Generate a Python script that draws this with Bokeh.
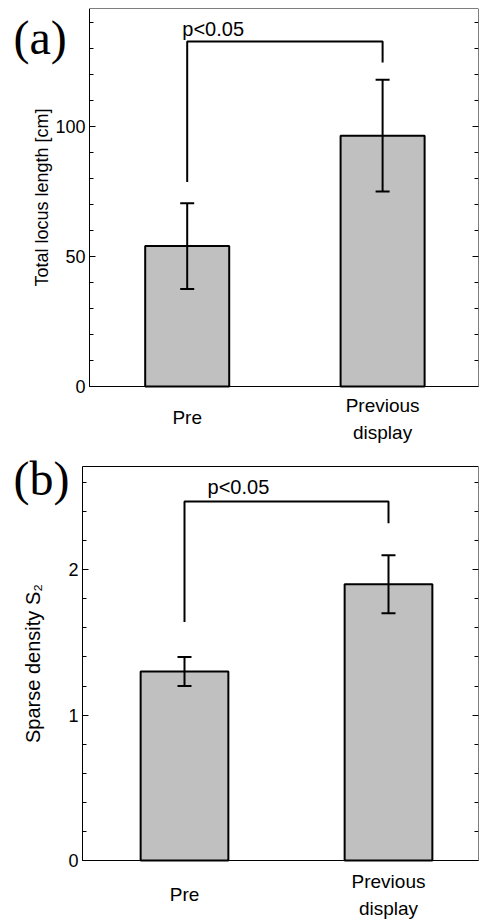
from bokeh.plotting import figure
from bokeh.layouts import column
from bokeh.models import (ColumnDataSource, Whisker, TeeHead, LinearAxis,
                          SingleIntervalTicker, FixedTicker, Range1d)
from bokeh.embed import file_html
from bokeh.resources import INLINE
from bokeh.core.properties import value

# ---- data ----
categories = ["Pre", "Previous\ndisplay"]
positions = [1, 2]

a_means = [54.0, 96.5]
a_errs = [16.5, 21.5]
a_bracket = [78.7, 132.7, 124.6]   # left start, top, right end

b_means = [1.30, 1.90]
b_errs = [0.10, 0.20]
b_bracket = [1.64, 2.47, 2.32]

SANS = "Liberation Sans"
SERIF = "Liberation Serif"


def build(means, errs, bracket, ylabel, ylabel_size, y_top, y_extra, interval,
          axis_px, px_per_unit, height, b_top, b_bottom_px, label_standoff,
          std_prev, std_pre, ptxt_xy, tag, tag_xy):
    width = 480
    frame_w = width - 2
    axis_x = 0.5                                   # data x of the y axis
    x_start = axis_x - axis_px / px_per_unit
    x_end = x_start + frame_w / px_per_unit
    y_start = -b_bottom_px * (y_top + y_extra) / (height - b_top - b_bottom_px)

    p = figure(width=width, height=height, output_backend="svg", toolbar_location=None,
               x_range=Range1d(x_start, x_end), y_range=Range1d(y_start, y_top + y_extra),
               x_axis_location=None, y_axis_location=None,
               min_border_left=0, min_border_right=2, min_border_top=b_top,
               min_border_bottom=0)
    p.grid.visible = False
    p.outline_line_color = None
    p.background_fill_color = "white"
    p.border_fill_color = "white"

    src = ColumnDataSource(dict(
        x=positions, top=means,
        upper=[m + e for m, e in zip(means, errs)],
        lower=[m - e for m, e in zip(means, errs)],
    ))
    p.vbar(x="x", top="top", bottom=0, width=0.43, source=src, fill_color="#c0c0c0",
           line_color="black", line_width=2)
    w = Whisker(base="x", upper="upper", lower="lower", source=src, level="overlay",
                line_width=2, line_color="black",
                upper_head=TeeHead(size=14, line_width=2, line_color="black"),
                lower_head=TeeHead(size=14, line_width=2, line_color="black"))
    p.add_layout(w)

    # significance bracket
    p.line(x=[positions[0], positions[0], positions[1], positions[1]],
           y=[bracket[0], bracket[1], bracket[1], bracket[2]],
           line_color="black", line_width=2)
    p.text(x=[ptxt_xy[0]], y=[ptxt_xy[1]], text=["p<0.05"], text_font=value(SANS),
           text_font_size="20px", text_baseline="alphabetic", text_align="left",
           text_color="black")

    # panel tag
    p.text(x=[x_start + tag_xy[0] / px_per_unit], y=[tag_xy[1]], text=[tag],
           text_font=value(SERIF), text_font_size="48px", text_baseline="alphabetic",
           text_align="left", text_color="black")

    # left y axis, drawn at a fixed data location
    yax = LinearAxis(axis_label=ylabel, fixed_location=axis_x, bounds=(0, y_top),
                     ticker=SingleIntervalTicker(interval=interval, num_minor_ticks=5))
    yax.major_tick_in = 6
    yax.major_tick_out = 0
    yax.minor_tick_in = 4
    yax.minor_tick_out = 0
    yax.major_label_standoff = 4
    yax.major_label_text_font = SANS
    yax.major_label_text_font_size = "18px"
    yax.major_label_text_color = "black"
    yax.axis_label_text_font = SANS
    yax.axis_label_text_font_style = "normal"
    yax.axis_label_text_font_size = ylabel_size
    yax.axis_label_text_color = "black"
    yax.axis_label_standoff = label_standoff
    yax.axis_line_color = "black"
    yax.major_tick_line_color = "black"
    yax.minor_tick_line_color = "black"
    p.add_layout(yax, "left")

    # right side: inward ticks, no labels
    rax = LinearAxis(ticker=SingleIntervalTicker(interval=interval, num_minor_ticks=5),
                     fixed_location=x_end, bounds=(0, y_top),
                     major_tick_in=6, major_tick_out=0, minor_tick_in=4, minor_tick_out=0,
                     major_label_text_color=None, axis_line_color="black")
    p.add_layout(rax, "right")

    # top frame line
    tax = LinearAxis(ticker=FixedTicker(ticks=[]), fixed_location=y_top,
                     bounds=(axis_x, x_end), major_label_text_color=None,
                     major_tick_line_color=None, minor_tick_line_color=None,
                     axis_line_color="black")
    p.add_layout(tax, "above")

    # bottom axes with category labels (drawn at y = 0)
    def make_x(ticks, standoff, line_color):
        ax = LinearAxis(ticker=FixedTicker(ticks=ticks),
                        major_label_overrides={t: categories[positions.index(t)] for t in ticks},
                        fixed_location=0, bounds=(axis_x, x_end), axis_line_color=line_color,
                        major_tick_line_color=None, minor_tick_line_color=None,
                        major_tick_out=0, major_tick_in=0, minor_tick_out=0, minor_tick_in=0,
                        major_label_standoff=standoff, major_label_text_font=SANS,
                        major_label_text_font_size="19px", major_label_text_color="black",
                        major_label_text_line_height=1.3)
        p.add_layout(ax, "below")
        return ax

    make_x([positions[1]], std_prev, "black")
    make_x([positions[0]], std_pre, None)
    return p


pa = build(a_means, a_errs, a_bracket, "Total locus length [cm]", "18px",
           145.4, 0.0, 50, 89, 195.4, 450, 8, 64, 0, 8, 20,
           (0.975, 137.5), "(a)", (13, 134.2))
pb = build(b_means, b_errs, b_bracket, "Sparse density S\u2082", "20px",
           2.71, 0.055, 1, 82, 204.0, 470, 8, 60, 21, 10, 23,
           (1.113, 2.568), "(b)", (13, 2.624))

layout = column(pa, pb, spacing=0)
open("out.html", "w").write(file_html(layout, INLINE))
